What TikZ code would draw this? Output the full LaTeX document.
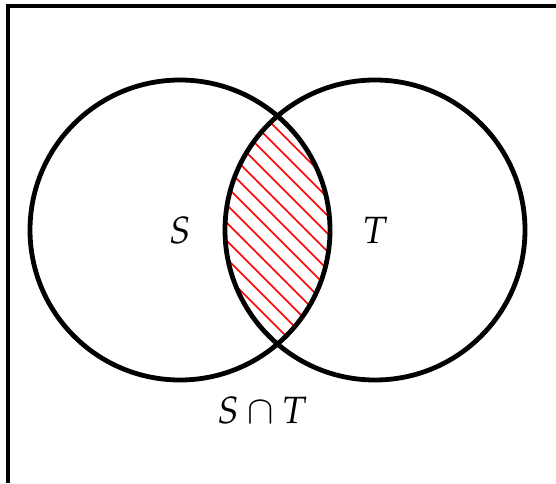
\documentclass[tikz,border=0pt]{standalone}
\usepackage{mathpazo}
\begin{document}
\begin{tikzpicture}[x=1pt,y=-1pt,
  setcircle/.style={circle,draw=black,line width=4.8pt,minimum size=300pt,inner sep=0pt},
  lbl/.style={font=\fontsize{38}{42}\selectfont},
  hatch/.style={red,line width=1.7pt}]
\useasboundingbox (0,0) rectangle (556,483);
\draw[line width=4.2pt] (7.7,483) -- (7.7,6) -- (556,6);
\begin{scope}
  \clip (180,230) circle (150);
  \clip (375,230) circle (150);
  \foreach \k in {0,...,25} {
    \draw[hatch] (50+\k*18,100) -- (50+\k*18+270,370);
  }
\end{scope}
\node[setcircle] (S) at (180,230) {};
\node[setcircle] (T) at (375,230) {};
\node[lbl] (sl) at (180,230) {$S$};
\node[lbl] (tl) at (375,230) {$T$};
\node[lbl] (st) at (262,410) {$S\cap T$};
\end{tikzpicture}
\end{document}
